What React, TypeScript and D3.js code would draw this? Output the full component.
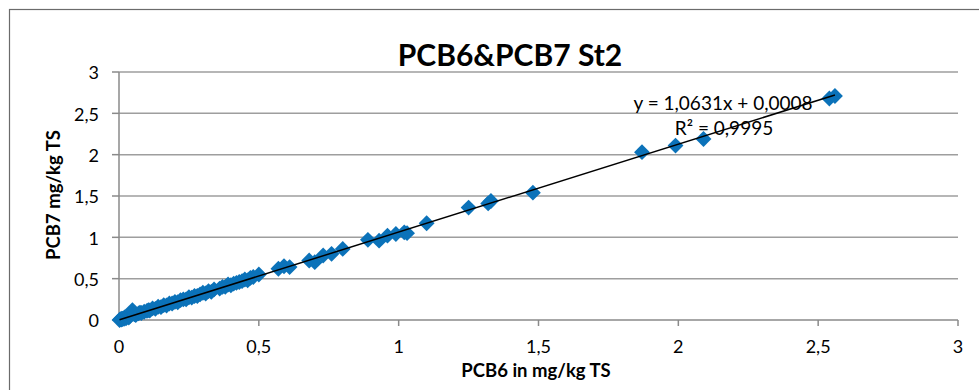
import React from "react";
import * as d3 from "d3";

const pcb6: number[] = [
  0.002, 0.005, 0.008, 0.01, 0.012, 0.015, 0.018, 0.02, 0.025, 0.03, 0.035, 0.04, 0.048, 0.055, 0.06,
  0.07, 0.075, 0.08, 0.09, 0.1, 0.105, 0.11, 0.12, 0.13, 0.14, 0.15, 0.16, 0.17, 0.18, 0.19, 0.2, 0.21,
  0.22, 0.23, 0.24, 0.25, 0.26, 0.27, 0.28, 0.29, 0.3, 0.31, 0.32, 0.33, 0.34, 0.36, 0.37, 0.38, 0.39,
  0.4, 0.41, 0.42, 0.43, 0.44, 0.45, 0.46, 0.47, 0.48, 0.5, 0.57, 0.59, 0.61, 0.68, 0.7, 0.73, 0.76,
  0.8, 0.89, 0.93, 0.96, 0.99, 1.02, 1.03, 1.1, 1.25, 1.32, 1.33, 1.48, 1.87, 1.99, 2.09, 2.54, 2.56,
];
const pcb7: number[] = [
  0.0, 0.01, 0.005, 0.015, 0.01, 0.02, 0.015, 0.03, 0.02, 0.04, 0.03, 0.05, 0.12, 0.07, 0.06,
  0.08, 0.09, 0.085, 0.1, 0.11, 0.12, 0.115, 0.14, 0.135, 0.16, 0.155, 0.18, 0.175, 0.2, 0.2, 0.22, 0.215,
  0.24, 0.25, 0.25, 0.275, 0.27, 0.29, 0.29, 0.31, 0.33, 0.32, 0.35, 0.34, 0.37, 0.38, 0.4, 0.4, 0.43,
  0.42, 0.44, 0.45, 0.46, 0.47, 0.49, 0.48, 0.51, 0.52, 0.55, 0.62, 0.65, 0.64, 0.72, 0.7, 0.78, 0.8,
  0.86, 0.97, 0.96, 1.02, 1.04, 1.06, 1.05, 1.17, 1.36, 1.41, 1.44, 1.54, 2.03, 2.11, 2.19, 2.68, 2.71,
];
const xTicks: number[] = [0, 0.5, 1, 1.5, 2, 2.5, 3];
const yTicks: number[] = [0, 0.5, 1, 1.5, 2, 2.5, 3];
const trendSlope = 1.0631;
const trendIntercept = 0.0008;
const title = "PCB6&PCB7 St2";
const xTitle = "PCB6 in mg/kg TS";
const yTitle = "PCB7 mg/kg TS";
const eqText = "y = 1,0631x + 0,0008";
const r2Text = "R² = 0,9995";

const W = 979;
const H = 390;
const FONT = "Lato, Carlito, 'Open Sans', sans-serif";

export default function App() {
  const x = d3.scaleLinear().domain([0, 3]).range([119, 958]);
  const y = d3.scaleLinear().domain([0, 3]).range([320, 72]);
  const fmt = (v: number) => String(v).replace(".", ",");
  const pts = pcb6.map((v, i) => ({ x: v, y: pcb7[i] }));
  const xMin = d3.min(pcb6) as number;
  const xMax = d3.max(pcb6) as number;
  const line = d3
    .line<number>()
    .x((d) => x(d))
    .y((d) => y(trendSlope * d + trendIntercept));
  const diamond = d3.symbol(d3.symbolDiamond2, 160)();
  const blue = "#0B72B9";
  return (
    <svg
      width={W}
      height={H}
      style={{ position: "absolute", left: 0, top: 0, background: "#fff" }}
      fontFamily={FONT}
    >
      <rect x={0} y={0} width={W} height={H} fill="#fff" />
      <rect x={9.5} y={9.5} width={W + 20} height={H + 20} fill="none" stroke="#6b6b6b" strokeWidth={1.2} />
      {yTicks.map((t) => (
        <g key={"gy" + t}>
          {t > 0 && (
            <line x1={119} x2={958} y1={y(t)} y2={y(t)} stroke="#9e9e9e" strokeWidth={1.5} />
          )}
          <line x1={112} x2={119} y1={y(t)} y2={y(t)} stroke="#8a8a8a" strokeWidth={1.5} />
          <text x={99} y={y(t) + 1} dy="0.35em" textAnchor="end" fontSize={18} fill="#000">
            {fmt(t)}
          </text>
        </g>
      ))}
      <line x1={119} x2={119} y1={72} y2={320} stroke="#8a8a8a" strokeWidth={1.5} />
      <line x1={119} x2={958} y1={320} y2={320} stroke="#8a8a8a" strokeWidth={1.5} />
      {xTicks.map((t) => (
        <g key={"gx" + t}>
          <line x1={x(t)} x2={x(t)} y1={320} y2={326} stroke="#8a8a8a" strokeWidth={1.5} />
          <text x={x(t)} y={347} dy="0.35em" textAnchor="middle" fontSize={18} fill="#000">
            {fmt(t)}
          </text>
        </g>
      ))}
      {pts.map((p, i) => (
        <path key={i} d={diamond as string} transform={`translate(${x(p.x)},${y(p.y)})`} fill={blue} />
      ))}
      <path d={line([xMin, xMax]) as string} stroke="#000" strokeWidth={1.5} fill="none" />
      <text x={723} y={103} dy="0.35em" textAnchor="middle" fontSize={19} fill="#000">
        {eqText}
      </text>
      <text x={724} y={128} dy="0.35em" textAnchor="middle" fontSize={19} fill="#000">
        {r2Text}
      </text>
      <text x={510} y={55} dy="0.35em" textAnchor="middle" fontSize={30} fontWeight="bold" fill="#000">
        {title}
      </text>
      <text x={536} y={371} dy="0.35em" textAnchor="middle" fontSize={18.5} fontWeight="bold" fill="#000">
        {xTitle}
      </text>
      <text
        transform="translate(54,195) rotate(-90)"
        dy="0.35em"
        textAnchor="middle"
        fontSize={18.5}
        fontWeight="bold"
        fill="#000"
      >
        {yTitle}
      </text>
    </svg>
  );
}
